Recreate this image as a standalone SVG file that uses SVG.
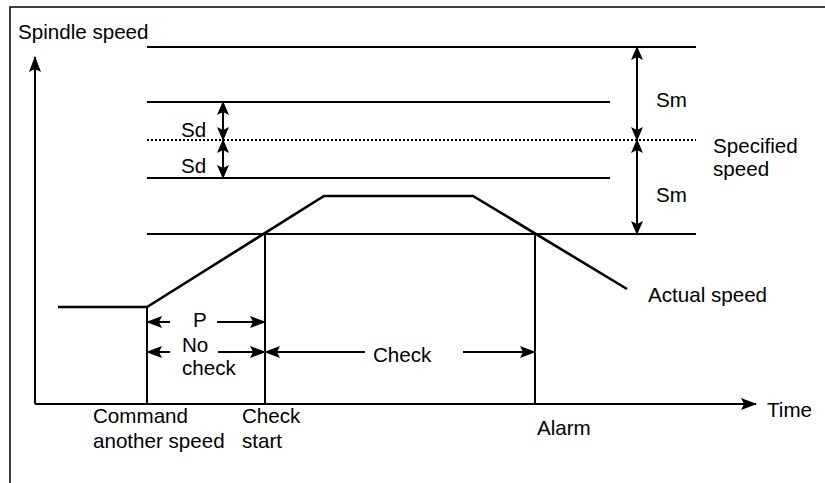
<svg xmlns="http://www.w3.org/2000/svg" width="825" height="483" viewBox="0 0 825 483">
<style>
text{font-family:"Liberation Sans",Arial,sans-serif;font-size:20.6px;fill:#000}
.ln{stroke:#000;stroke-width:2;fill:none}
.dot{stroke:#000;stroke-width:2;fill:none;stroke-dasharray:2 2}
.curve{stroke:#000;stroke-width:2.6;fill:none;stroke-linejoin:miter}
</style>
<defs>
<marker id="ah" markerUnits="userSpaceOnUse" markerWidth="16" markerHeight="12" refX="15" refY="6" orient="auto-start-reverse" viewBox="0 0 16 12">
<path d="M0,0 L16,6 L0,12 L3,6 z" fill="#000"/>
</marker>
<marker id="as" markerUnits="userSpaceOnUse" markerWidth="14" markerHeight="12" refX="13" refY="6" orient="auto-start-reverse" viewBox="0 0 14 12">
<path d="M0,0 L14,6 L0,12 L3,6 z" fill="#000"/>
</marker>
</defs>
<rect x="10" y="7" width="830" height="490" fill="#fff" stroke="#000" stroke-width="1.5"/>
<g id="levels">
<line class="ln" x1="147" y1="47" x2="696" y2="47"/>
<line class="ln" x1="147" y1="102" x2="610" y2="102"/>
<line class="dot" x1="147" y1="140" x2="696" y2="140"/>
<line class="ln" x1="147" y1="178" x2="610" y2="178"/>
<line class="ln" x1="147" y1="234" x2="696" y2="234"/>
</g>
<g id="axes">
<line class="ln" x1="35" y1="404" x2="35" y2="57" marker-end="url(#ah)"/>
<line class="ln" x1="35" y1="404" x2="756" y2="404" marker-end="url(#ah)"/>
<text x="18" y="39">Spindle speed</text>
<text x="767" y="417">Time</text>
</g>
<g id="actual-speed">
<polyline class="curve" points="58,307 147,307 324,196 473,196 627,289"/>
<text x="648" y="302">Actual speed</text>
</g>
<g id="markers-vertical">
<line class="ln" x1="147" y1="307" x2="147" y2="404"/>
<line class="ln" x1="265" y1="234" x2="265" y2="404"/>
<line class="ln" x1="535" y1="234" x2="535" y2="404"/>
</g>
<g id="connectors">
<line class="ln" x1="223" y1="121" x2="223" y2="102" marker-end="url(#as)"/>
<line class="ln" x1="223" y1="121" x2="223" y2="140" marker-end="url(#as)"/>
<line class="ln" x1="223" y1="159" x2="223" y2="140" marker-end="url(#as)"/>
<line class="ln" x1="223" y1="159" x2="223" y2="178" marker-end="url(#as)"/>
<line class="ln" x1="637" y1="93" x2="637" y2="47" marker-end="url(#as)"/>
<line class="ln" x1="637" y1="93" x2="637" y2="140" marker-end="url(#as)"/>
<line class="ln" x1="637" y1="187" x2="637" y2="140" marker-end="url(#as)"/>
<line class="ln" x1="637" y1="187" x2="637" y2="234" marker-end="url(#as)"/>
<line class="ln" x1="170" y1="322" x2="147" y2="322" marker-end="url(#ah)"/>
<line class="ln" x1="217" y1="322" x2="265" y2="322" marker-end="url(#ah)"/>
<line class="ln" x1="170" y1="352" x2="147" y2="352" marker-end="url(#ah)"/>
<line class="ln" x1="218" y1="352" x2="265" y2="352" marker-end="url(#ah)"/>
<line class="ln" x1="365" y1="352" x2="265" y2="352" marker-end="url(#ah)"/>
<line class="ln" x1="463" y1="352" x2="535" y2="352" marker-end="url(#ah)"/>
</g>
<g id="labels">
<text x="181" y="137">Sd</text>
<text x="181" y="173">Sd</text>
<text x="656" y="107">Sm</text>
<text x="656" y="202">Sm</text>
<text x="713" y="153">Specified</text>
<text x="713" y="176">speed</text>
<text x="193" y="327">P</text>
<text x="182" y="352">No</text>
<text x="182" y="375">check</text>
<text x="373" y="362">Check</text>
<text x="93" y="423">Command</text>
<text x="93" y="448">another speed</text>
<text x="242" y="423">Check</text>
<text x="242" y="448">start</text>
<text x="537" y="435">Alarm</text>
</g>
</svg>
